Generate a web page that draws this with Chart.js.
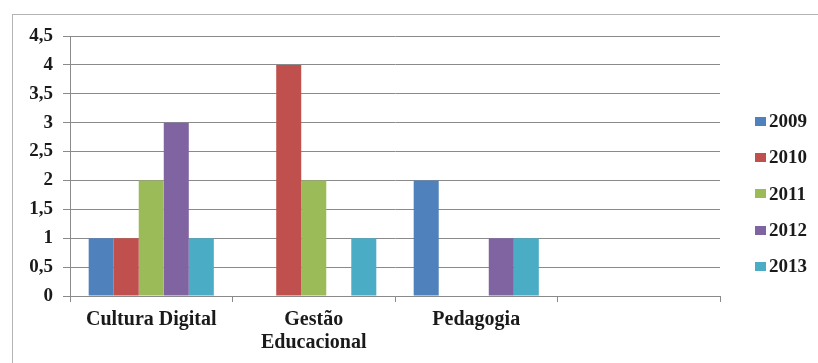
<!DOCTYPE html>
<html>
<head>
<meta charset="utf-8">
<script src="https://cdn.jsdelivr.net/npm/chart.js@4/dist/chart.umd.min.js"></script>
<style>
    html, body { margin: 0; padding: 0; background: #fff; }
    #caixa { position: relative; width: 818px; height: 363px; overflow: hidden; }
    #marc { position: absolute; left: 12px; top: 14px; width: 900px; height: 400px;
            border-left: 1px solid #b4b4b4; border-top: 1px solid #b4b4b4; }
    #grafic { position: absolute; left: 0; top: 0; }
    #llegenda { position: absolute; left: 755px; top: 103px; font: bold 19px "Times New Roman", "Liberation Serif", "DejaVu Serif", serif; color: #1a1a1a; }
    .item { height: 36.3px; display: flex; align-items: center; }
    .quadre { width: 11px; height: 9px; margin-right: 3px; }
</style>
</head>
<body>
<div id="caixa">
    <div id="marc"></div>
    <canvas id="grafic" width="818" height="363"></canvas>
    <div id="llegenda"></div>
</div>
<script>
// Dades llegides del gràfic
const categories = ['Cultura Digital', ['Gestão', 'Educacional'], 'Pedagogia', ''];
const anys = ['2009', '2010', '2011', '2012', '2013'];
const colors = ['#4F81BD', '#C0504D', '#9BBB59', '#8064A2', '#4BACC6'];

const valors2009 = [1, 0, 2, 0];
const valors2010 = [1, 4, 0, 0];
const valors2011 = [2, 2, 0, 0];
const valors2012 = [3, 0, 1, 0];
const valors2013 = [1, 1, 1, 0];

const ticksY = [0, 0.5, 1, 1.5, 2, 2.5, 3, 3.5, 4, 4.5];

const series = [valors2009, valors2010, valors2011, valors2012, valors2013];
const font = { family: '"Times New Roman", "Liberation Serif", "DejaVu Serif", serif', weight: 'bold' };

const grafic = new Chart(document.getElementById('grafic'), {
    type: 'bar',
    data: {
        labels: categories,
        datasets: series.map((s, i) => ({
            label: anys[i],
            data: s,
            backgroundColor: colors[i],
            borderWidth: 0,
            categoryPercentage: 0.77,
            barPercentage: 1
        }))
    },
    options: {
        responsive: false,
        animation: false,
        layout: { padding: { left: 12, top: 36, right: 98, bottom: 0 } },
        plugins: { legend: { display: false }, tooltip: { enabled: false } },
        scales: {
            x: {
                grid: { drawOnChartArea: false, drawTicks: true, tickLength: 6, color: '#8a8a8a' },
                border: { color: '#8a8a8a' },
                ticks: { color: '#1a1a1a', font: { ...font, size: 20, lineHeight: 1.15 }, padding: 6, maxRotation: 0, autoSkip: false },
                afterFit: s => { s.height = 67; }
            },
            y: {
                min: 0, max: 4.5,
                afterBuildTicks: s => { s.ticks = ticksY.map(v => ({ value: v })); },
                grid: { color: '#8a8a8a', tickLength: 7 },
                border: { color: '#8a8a8a' },
                ticks: {
                    color: '#1a1a1a', font: { ...font, size: 19 }, padding: 10,
                    callback: v => String(v).replace('.', ',')
                },
                afterFit: s => { s.width = 58; }
            }
        }
    }
});

// Llegenda en HTML a partir dels datasets
const llegenda = document.getElementById('llegenda');
grafic.data.datasets.forEach(ds => {
    llegenda.innerHTML += `<div class="item"><span class="quadre" style="background:${ds.backgroundColor}"></span>${ds.label}</div>`;
});
</script>
</body>
</html>
